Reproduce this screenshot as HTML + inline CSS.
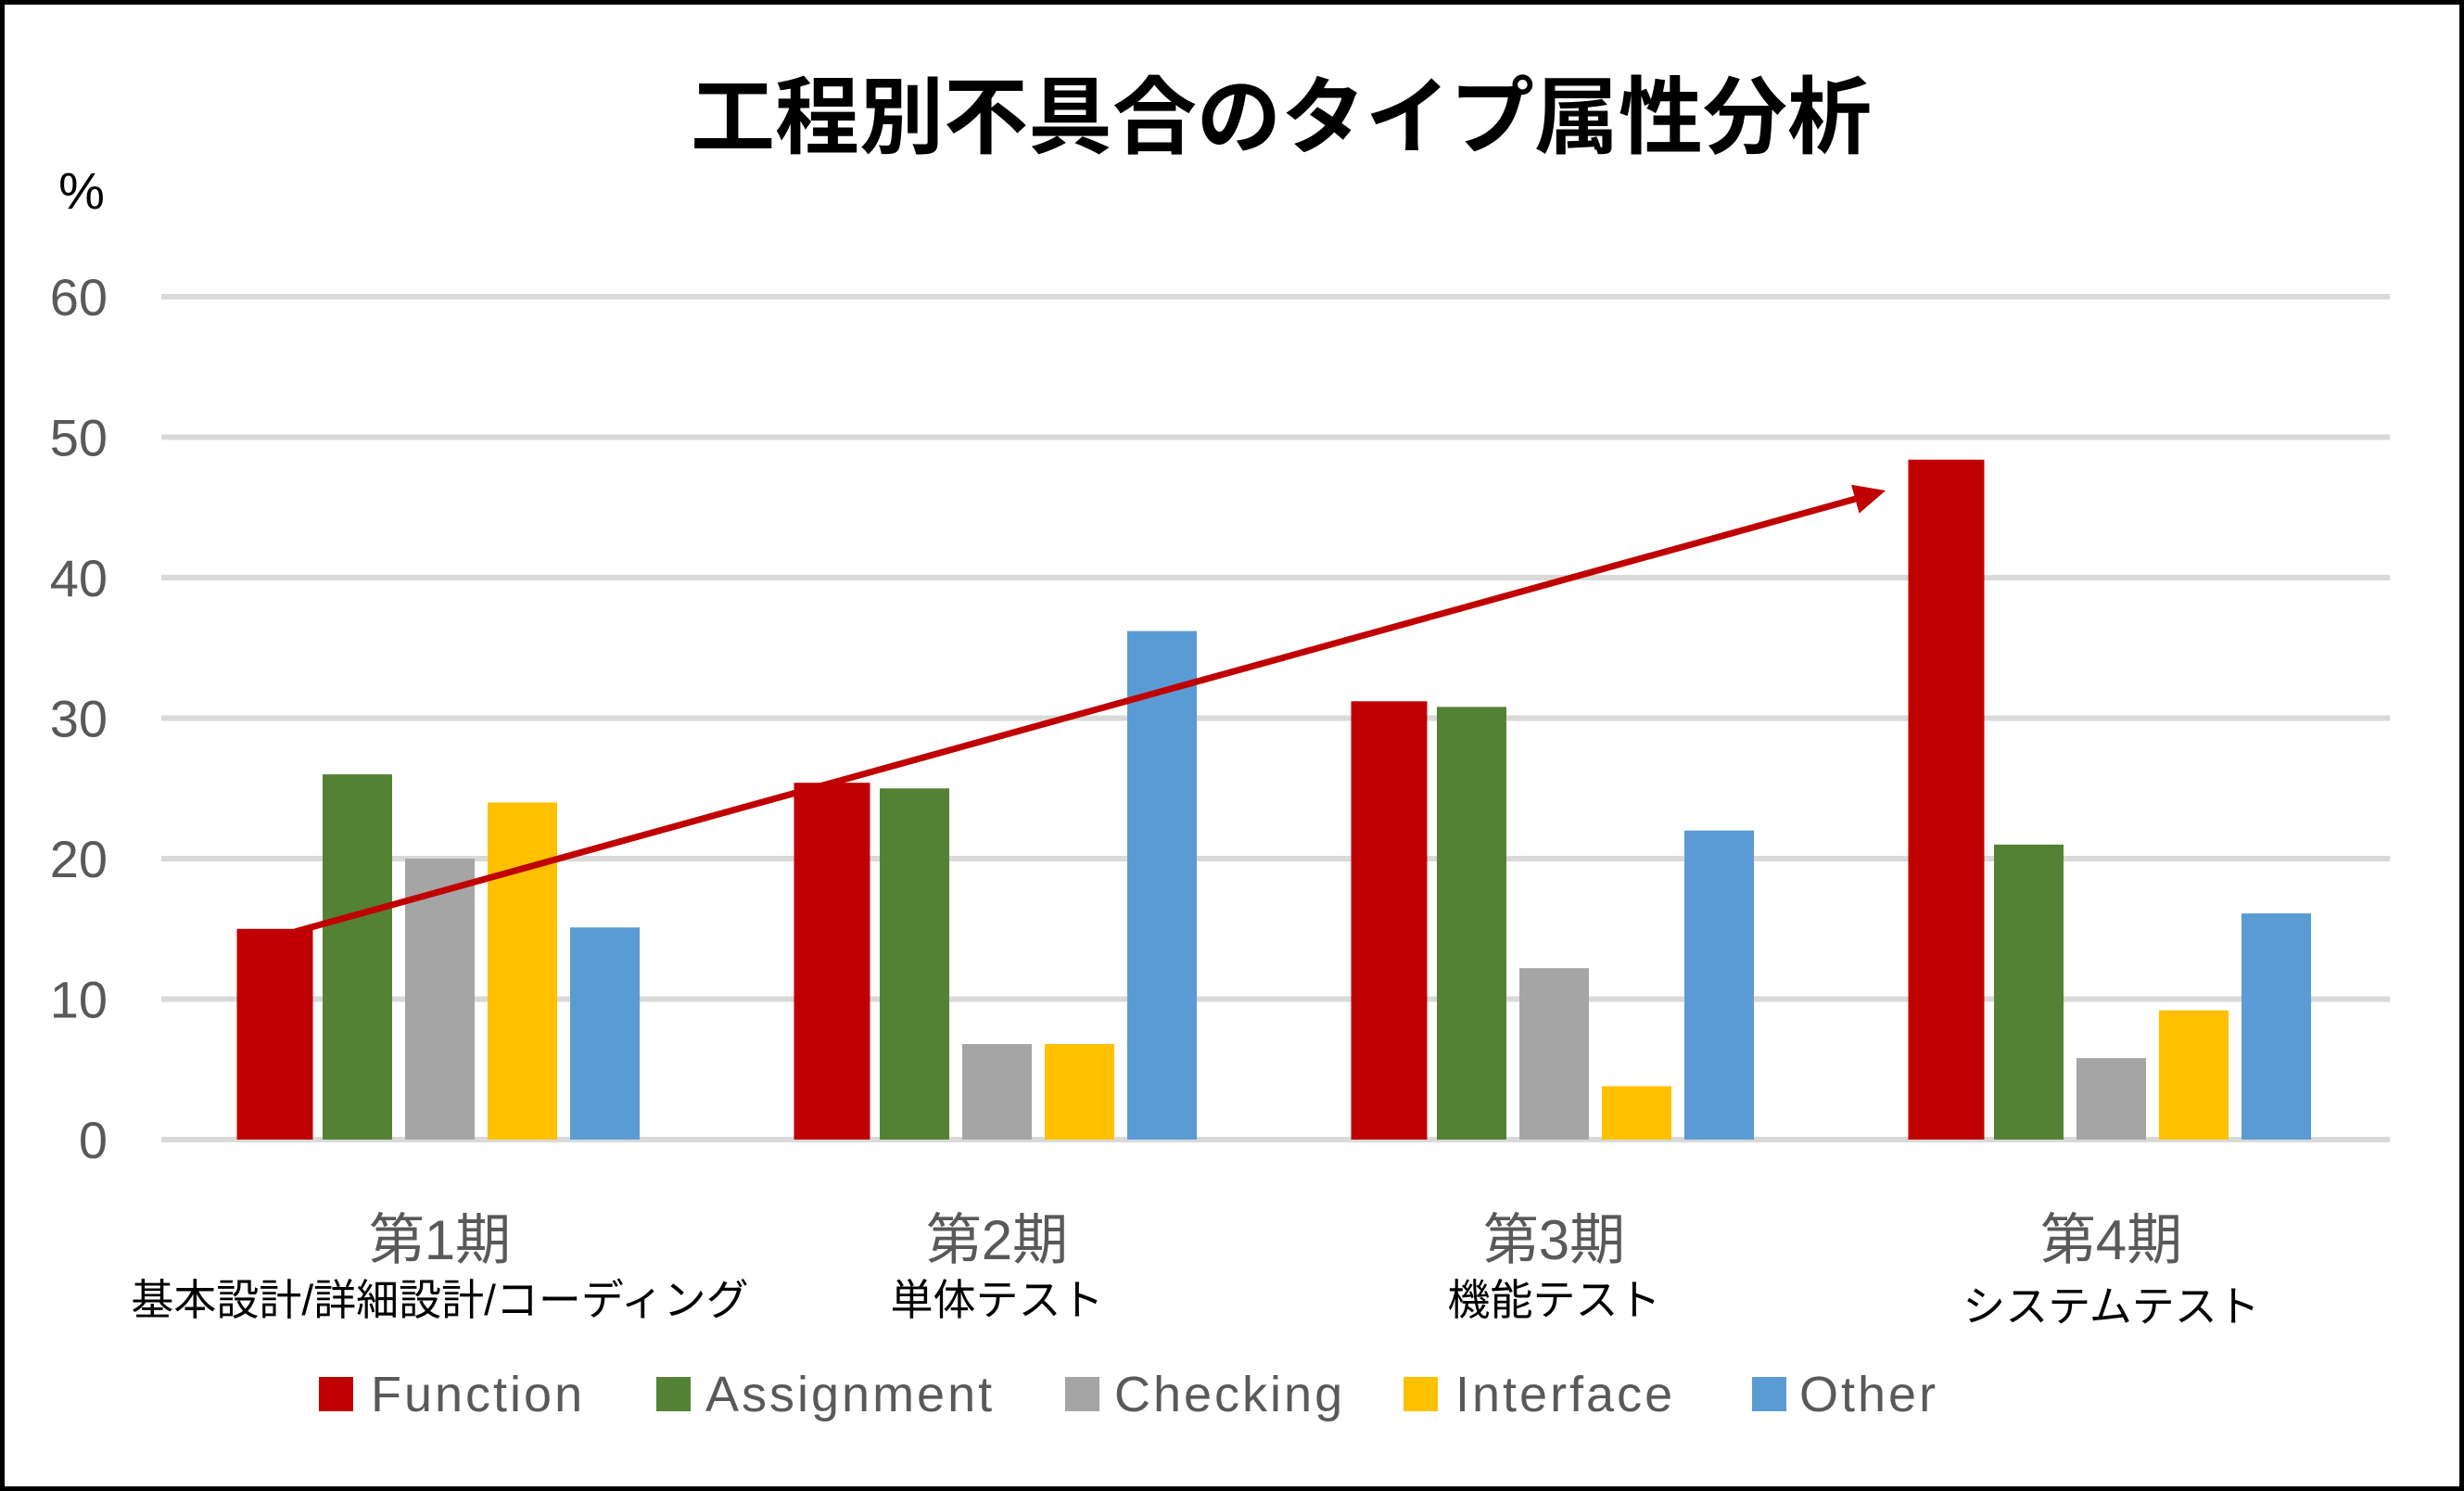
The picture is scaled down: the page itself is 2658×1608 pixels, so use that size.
<!DOCTYPE html>
<html><head><meta charset="utf-8"><style>
html,body{margin:0;padding:0;background:#fff}
svg{display:block}
</style></head><body>
<svg id="chart" width="2658" height="1608" viewBox="0 0 2658 1608" xmlns="http://www.w3.org/2000/svg">
<rect x="2.5" y="2.5" width="2653" height="1603" fill="#fff" stroke="#000" stroke-width="5"/>
<text x="1382" y="158" text-anchor="middle" font-family="'Liberation Sans','Noto Sans CJK JP',sans-serif" font-weight="bold" font-size="91" fill="#000">工程別不具合のタイプ属性分析</text>
<text x="88" y="225" text-anchor="middle" font-family="'Liberation Sans','Noto Sans CJK JP',sans-serif" font-size="56" fill="#000">%</text>
<g id="grid"></g>
<g id="bars"></g>
<g id="xlabels"></g>
<g id="legend"></g>
<g id="arrow"></g>
</svg>
<script>
const categories = ['第1期','第2期','第3期','第4期'];
const subLabels = ['基本設計/詳細設計/コーディング','単体テスト','機能テスト','システムテスト'];
const seriesNames = ['Function','Assignment','Checking','Interface','Other'];
const functionVals = [15, 25.4, 31.2, 48.4];
const assignmentVals = [26, 25, 30.8, 21];
const checkingVals = [20, 6.8, 12.2, 5.8];
const interfaceVals = [24, 6.8, 3.8, 9.2];
const otherVals = [15.1, 36.2, 22, 16.1];
const yTicks = [0,10,20,30,40,50,60];
const arrowStart = {cat:0, v:14.8};
const arrowEnd = {cat:2.595, v:46.2};

const NS='http://www.w3.org/2000/svg';
const colors=['#C00000','#548235','#A5A5A5','#FFC000','#5B9BD5'];
const series=[functionVals,assignmentVals,checkingVals,interfaceVals,otherVals];
const X0=174, X1=2578, Y0=1229, Y60=320;
const groupW=(X1-X0)/categories.length, slot=89;
function y(v){return Y0-(v/60)*(Y0-Y60);}
function cx(c){return X0+groupW*(c+0.5);}
function mk(tag,attrs,parent){const e=document.createElementNS(NS,tag);for(const k in attrs)e.setAttribute(k,attrs[k]);parent.appendChild(e);return e;}
const font="'Liberation Sans','Noto Sans CJK JP',sans-serif";

const grid=document.getElementById('grid');
yTicks.forEach(t=>{
  const l=mk('line',{x1:X0,x2:X1,y1:y(t),y2:y(t),stroke:'#D9D9D9','stroke-width':6},grid);
  
  
  const tx=mk('text',{x:116,y:y(t)+20,'text-anchor':'end','font-family':font,'font-size':56,fill:'#595959'},grid);
  tx.textContent=t;
  
  
});

const bars=document.getElementById('bars');
categories.forEach((c,ci)=>{
  series.forEach((s,si)=>{
    const center=cx(ci)+(si-2)*slot;
    const w=si===0?82:75;
    const r=mk('rect',{x:center-w/2,y:y(s[ci]),width:w,height:Y0-y(s[ci]),fill:colors[si]},bars);
    
    
  });
});

const xl=document.getElementById('xlabels');
categories.forEach((c,ci)=>{
  const t=mk('text',{x:cx(ci),y:1358,'text-anchor':'middle','font-family':font,'font-size':60,fill:'#595959'},xl);
  t.textContent=c;
  
  
  const s=mk('text',{x:cx(ci),y:ci===3?1425:1418,'text-anchor':'middle','font-family':font,'font-size':46,fill:'#000'},xl);
  s.textContent=subLabels[ci];
  
  
});

const lg=document.getElementById('legend');
const lgSq=[344,708,1149,1514,1890];
const lgTx=[400,761,1202,1570,1941];
seriesNames.forEach((n,i)=>{
  const r=mk('rect',{x:lgSq[i],y:1485,width:37,height:37,fill:colors[i]},lg);
  
  
  const t=mk('text',{x:lgTx[i],y:1522,'font-family':font,'font-size':54,fill:'#595959','letter-spacing':3},lg);
  t.textContent=n;
  
  
});

const ar=document.getElementById('arrow');
const sx=cx(arrowStart.cat)-2*slot+22, sy=y(arrowStart.v);
const ex=cx(arrowEnd.cat), ey=y(arrowEnd.v);
const ang=Math.atan2(ey-sy,ex-sx), hl=34, hw=16;
const bx=ex-hl*Math.cos(ang), by=ey-hl*Math.sin(ang);
const ln=mk('line',{x1:sx,y1:sy,x2:bx,y2:by,stroke:'#C00000','stroke-width':7},ar);


const px=-Math.sin(ang), py=Math.cos(ang);
const hd=mk('polygon',{points:`${ex},${ey} ${bx+px*hw},${by+py*hw} ${bx-px*hw},${by-py*hw}`,fill:'#C00000'},ar);


</script>
</body></html>
